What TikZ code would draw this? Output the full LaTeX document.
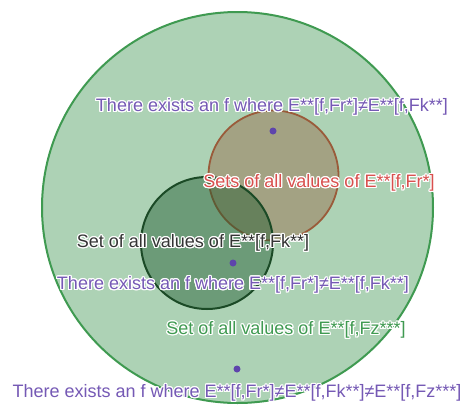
\documentclass[tikz,border=0pt]{standalone}
\usepackage{fontspec}
\setmainfont{Liberation Sans}
\usepackage[copies]{contour}
\contourlength{1.1pt}
\usepackage{tikz}
\usetikzlibrary{positioning}
\definecolor{setgreen}{HTML}{3F9A51}
\definecolor{setfill}{HTML}{ADD2B5}
\definecolor{frbrown}{HTML}{9A5B3A}
\definecolor{frfill}{HTML}{9A7453}
\definecolor{fkgreen}{HTML}{1B4A26}
\definecolor{fkfill}{HTML}{1E5A2E}
\definecolor{exviolet}{HTML}{7559B5}
\definecolor{dotviolet}{HTML}{5E44AC}
\definecolor{frred}{HTML}{D9504E}

\begin{document}
\begin{tikzpicture}[x=1pt, y=-1pt, font=\fontsize{18}{21}\selectfont]
\useasboundingbox (0,0) rectangle (464,410);
\tikzset{setcircle/.style={circle, inner sep=0pt},
  pt/.style={circle, fill=dotviolet, inner sep=0pt, minimum size=7pt},
  lbl/.style={inner sep=0pt, text height=13pt, text depth=3.5pt}}
% sets
\node[setcircle, draw=setgreen, line width=2pt, fill=setfill, minimum size=391pt] (fz) at (237.5,207.5) {};
\node[setcircle, draw=frbrown, line width=1.8pt, fill=frfill, fill opacity=0.5, minimum size=130pt] (fr) at (273.5,175.5) {};
\node[setcircle, draw=fkgreen, line width=2pt, fill=fkfill, fill opacity=0.45, minimum size=132pt] (fk) at (207,243) {};
% points
\node[pt] (p1) at (273,131) {};
\node[pt] (p2) at (233,263) {};
\node[pt] (p3) at (237,369) {};
% labels
\node[lbl, text=exviolet] (t1) at (272,107) {\contour{white}{There exists an f where E**[f,Fr*]≠E**[f,Fk**]}};
\node[lbl, text=frred] (t2) at (319,183) {\contour{white}{Sets of all values of E**[f,Fr*]}};
\node[lbl, text=black!80] (t3) at (193,243) {\contour{white}{Set of all values of E**[f,Fk**]}};
\node[lbl, text=exviolet] (t4) at (233,285) {\contour{white}{There exists an f where E**[f,Fr*]≠E**[f,Fk**]}};
\node[lbl, text=setgreen] (t5) at (286,330) {\contour{white}{Set of all values of E**[f,Fz***]}};
\node[lbl, text=exviolet] (t6) at (237,393) {\contour{white}{There exists an f where E**[f,Fr*]≠E**[f,Fk**]≠E**[f,Fz***]}};
\end{tikzpicture}
\end{document}
